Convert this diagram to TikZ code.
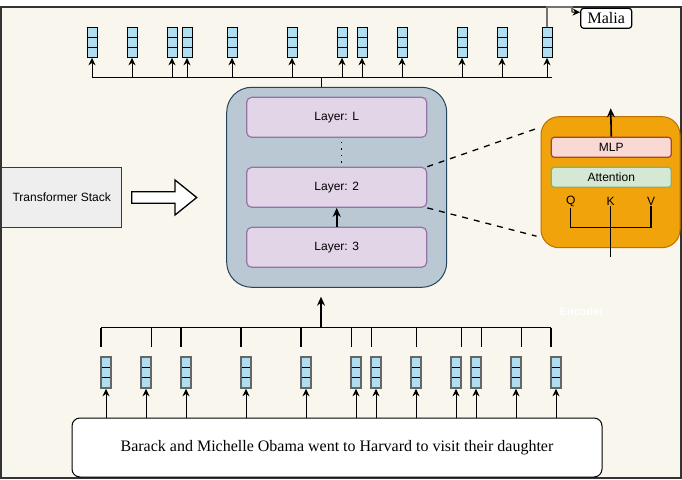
\documentclass[tikz,border=0pt]{standalone}
\usepackage{fontspec}
\setmainfont{Liberation Serif}
\setsansfont{Liberation Sans}
\usetikzlibrary{arrows.meta}

\definecolor{bgbeige}{HTML}{F9F6EE}
\definecolor{vecblue}{HTML}{B1DDF0}
\definecolor{stackfill}{HTML}{BAC8D3}
\definecolor{stackdraw}{HTML}{23445D}
\definecolor{layerfill}{HTML}{E1D5E7}
\definecolor{layerdraw}{HTML}{9673A6}
\definecolor{encfill}{HTML}{F0A30A}
\definecolor{encdraw}{HTML}{BD7000}
\definecolor{mlpfill}{HTML}{FAD9D5}
\definecolor{mlpdraw}{HTML}{AE4132}
\definecolor{attfill}{HTML}{D5E8D4}
\definecolor{attdraw}{HTML}{82B366}
\definecolor{tsfill}{HTML}{EEEEEE}
\definecolor{tsdraw}{HTML}{36393D}

\tikzset{
  vec/.style={draw=black, fill=vecblue, minimum width=10pt, minimum height=30pt, inner sep=0pt, line width=1pt,
    path picture={
      \draw[black, line width=1pt] ([yshift=-10pt]path picture bounding box.north west) -- ([yshift=-10pt]path picture bounding box.north east);
      \draw[black, line width=1pt] ([yshift=-20pt]path picture bounding box.north west) -- ([yshift=-20pt]path picture bounding box.north east);
    }},
  grayvec/.style={vec, draw=black!60, line width=1.6pt, minimum height=31pt},
  layerbox/.style={draw=layerdraw, fill=layerfill, line width=1.2pt, rounded corners=5pt,
    minimum width=180pt, minimum height=40pt, font=\sffamily\fontsize{12}{14}\selectfont},
  sublayer/.style={rounded corners=3pt, line width=1.2pt, minimum width=120pt, minimum height=20pt,
    font=\sffamily\fontsize{12}{14}\selectfont},
  lbl/.style={inner sep=0pt, font=\sffamily\fontsize{12}{14}\selectfont},
  arr/.style={-{Stealth[length=7.5pt,width=7pt]}, line width=1pt},
  bigarr/.style={-{Stealth[length=9pt,width=8pt]}, line width=1.6pt},
  link/.style={dash pattern=on 6pt off 6pt, line width=1.3pt},
}

\begin{document}
\begin{tikzpicture}[x=1pt,y=-1pt,line width=1pt]
  \useasboundingbox (0,0) rectangle (682,479);
  \draw[draw=black!80, fill=bgbeige, line width=1.2pt] (1,7) rectangle (681,478);

  \node[draw=stackdraw, fill=stackfill, line width=1pt, rounded corners=25pt,
        minimum width=220pt, minimum height=200pt] (stack) at (336.7,187.3) {};
  \node[layerbox] (lL) at (336.7,117.3) {Layer: L};
  \node[layerbox] (l2) at (336.7,187.3) {Layer: 2};
  \node[layerbox] (l3) at (336.7,247.3) {Layer: 3};
  \draw[dash pattern=on 1.5pt off 5pt, line width=1.5pt] ([xshift=5pt,yshift=-4pt]lL.south) -- ([xshift=5pt]l2.north);
  \draw[bigarr] (l3) -- (l2);

  \node[draw=tsdraw, fill=tsfill, line width=1.3pt, minimum width=120pt, minimum height=60pt,
        font=\sffamily\fontsize{12}{14}\selectfont] (ts) at (61.7,197.3) {Transformer Stack};
  \draw[fill=white, line width=1.3pt] (131.7,191.7) -- (175,191.7) -- (175,180) -- (196.7,197.5)
    -- (175,215) -- (175,203.3) -- (131.7,203.3) -- cycle;

  \node[draw=encdraw, fill=encfill, line width=1pt, rounded corners=18pt,
        minimum width=139pt, minimum height=131pt] (enc) at (610.5,182.2) {};
  \node[sublayer, draw=mlpdraw, fill=mlpfill] (mlp) at (611.3,147.3) {MLP};
  \node[sublayer, draw=attdraw, fill=attfill] (att) at (611.3,177.3) {Attention};
  \node[lbl] (q) at (570.7,201.7) {Q};
  \node[lbl] (k) at (610.7,201.7) {K};
  \node[lbl] (v) at (651,201.7) {V};
  \coordinate (kb) at (610.7,227.3);
  \coordinate (kin) at (610.7,256.7);
  \coordinate (kout) at (610.7,108.3);
  \draw[line width=1.4pt] (q.south) |- (kb) -| (v.south);
  \draw[line width=1.4pt] (kin) -- (k.south);
  \draw[bigarr] (mlp.north) -- (kout);
  \node[text=white, font=\sffamily\bfseries\fontsize{11}{13}\selectfont] (enclbl) at (581.7,311.7) {Encoder};

  \draw[link] (l2.north east) -- ([yshift=55pt]enc.west);
  \draw[link] (l2.south east) -- ([xshift=-4pt,yshift=-54pt]enc.west);

  \coordinate (tbar) at (321.7,77);
  \foreach \x [count=\i] in {92,132,172,187,232,292,342,362,402,462,502,547} {
    \node[vec] (t\i) at (\x,42.3) {};
    \draw[arr] (t\i |- tbar) -- (t\i.south);
  }
  \draw (92,77) -- (552,77);
  \draw (tbar) -- (tbar |- stack.north);

  \node[draw, fill=white, line width=1.2pt, rounded corners=3pt, minimum width=51pt, minimum height=20pt,
        inner sep=1pt, font=\fontsize{16}{18}\selectfont] (malia) at (606.2,18.3) {Malia};
  \coordinate (mbend) at (572,12);
  \draw[draw=black!55, line width=1.2pt] (t12.north) |- (572,7) -- (mbend);
  \draw[arr] (mbend) -- ([yshift=6pt]malia.west);

  \node[draw, fill=white, line width=1pt, rounded corners=8pt, minimum width=530pt, minimum height=59pt,
        font=\fontsize{16}{18}\selectfont] (sent) at (337,447.5)
        {Barack and Michelle Obama went to Harvard to visit their daughter};

  \coordinate (bbar) at (321,327.7);
  \coordinate (btip) at (321,296.7);
  \foreach \x [count=\i] in {106,146,186,246,306,356,376,416,456,476,516,556} {
    \node[grayvec] (b\i) at (\x,372.5) {};
    \draw[arr] (b\i |- sent.north) -- (b\i.south);
  }
  \foreach \x in {101,151.7,181,241,301,351.7,371.7,416.7,461.7,481.7,521.7,551} {
    \draw[line width=1.4pt] (\x,327.7) -- (\x,346.7);
  }
  \draw[line width=1.4pt] (101,327.7) -- (551,327.7);
  \draw[bigarr] (bbar) -- (btip);
\end{tikzpicture}
\end{document}
